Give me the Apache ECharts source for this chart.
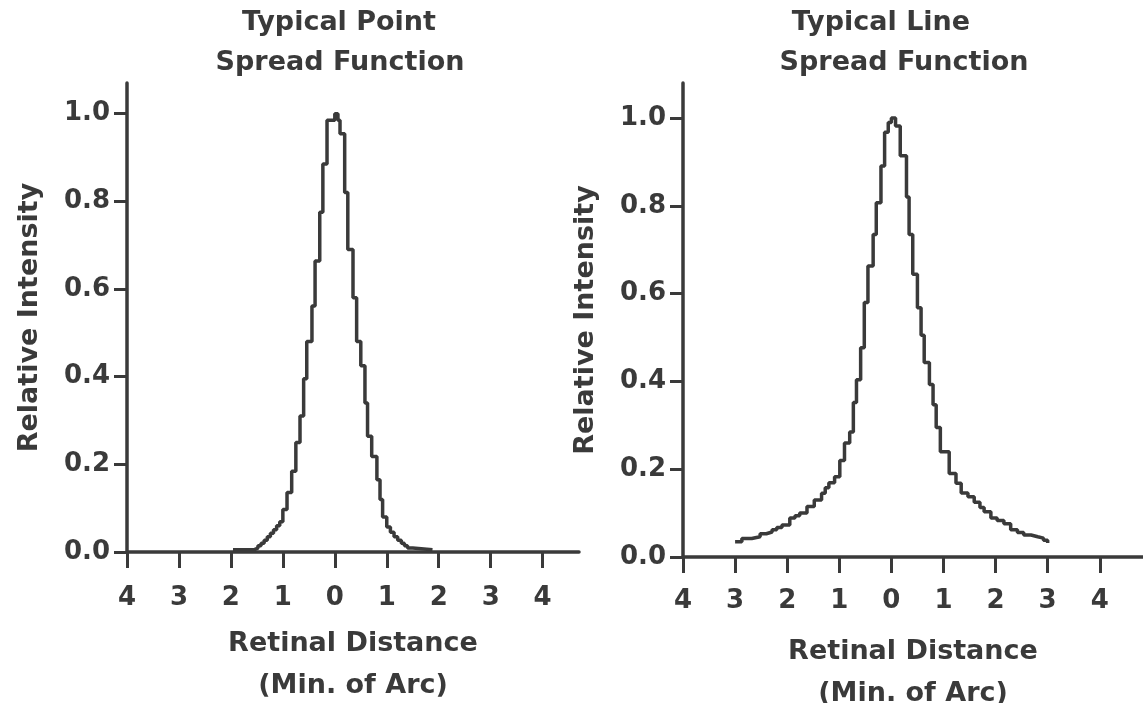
<!DOCTYPE html>
<html>
<head>
<meta charset="utf-8">
<script src="https://cdn.jsdelivr.net/npm/echarts@6/dist/echarts.min.js"></script>
<style>
html,body{margin:0;padding:0;background:#fff;}
#c{width:1143px;height:703px;}
</style>
</head>
<body>
<div id="c"></div>
<script>
// Point spread function (step outline), distance in min of arc
const psfX = [-1.96, -1.56, -1.48, -1.42, -1.36, -1.30, -1.24, -1.18, -1.12, -1.06, -1.00, -0.92, -0.83, -0.75, -0.67, -0.60, -0.54, -0.44, -0.38, -0.29, -0.23, -0.15, 0.00, 0.06, 0.10, 0.19, 0.25, 0.35, 0.42, 0.50, 0.58, 0.63, 0.71, 0.81, 0.87, 0.92, 1.00, 1.07, 1.14, 1.21, 1.28, 1.34, 1.40, 1.50, 1.88];
const psfY = [0.005, 0.009, 0.014, 0.020, 0.027, 0.035, 0.043, 0.051, 0.060, 0.069, 0.097, 0.136, 0.184, 0.250, 0.310, 0.395, 0.480, 0.561, 0.664, 0.775, 0.885, 0.985, 1.000, 0.985, 0.954, 0.820, 0.690, 0.580, 0.480, 0.425, 0.340, 0.264, 0.218, 0.165, 0.120, 0.080, 0.057, 0.045, 0.035, 0.027, 0.020, 0.014, 0.009, 0.005, 0.005];

// Line spread function (step outline)
const lsfX = [-3.00, -2.87, -2.68, -2.52, -2.40, -2.29, -2.20, -2.10, -1.95, -1.85, -1.76, -1.62, -1.48, -1.34, -1.27, -1.20, -1.09, -0.99, -0.90, -0.80, -0.73, -0.67, -0.59, -0.52, -0.45, -0.35, -0.29, -0.20, -0.13, -0.06, 0.00, 0.08, 0.17, 0.29, 0.34, 0.41, 0.50, 0.57, 0.63, 0.73, 0.80, 0.86, 0.94, 1.11, 1.24, 1.34, 1.47, 1.59, 1.70, 1.78, 1.91, 2.03, 2.16, 2.29, 2.42, 2.54, 2.68, 2.81, 2.92, 3.00];
const lsfY = [0.035, 0.042, 0.046, 0.053, 0.057, 0.062, 0.067, 0.073, 0.089, 0.094, 0.100, 0.115, 0.130, 0.145, 0.158, 0.169, 0.183, 0.220, 0.260, 0.285, 0.352, 0.404, 0.477, 0.580, 0.663, 0.735, 0.807, 0.891, 0.968, 0.990, 1.000, 0.982, 0.914, 0.820, 0.735, 0.644, 0.568, 0.505, 0.443, 0.393, 0.347, 0.295, 0.240, 0.190, 0.168, 0.146, 0.137, 0.125, 0.113, 0.103, 0.089, 0.083, 0.076, 0.062, 0.056, 0.050, 0.046, 0.043, 0.038, 0.032];

const xTickVals = [-4, -3, -2, -1, 0, 1, 2, 3, 4];
const yTickVals = [0, 0.2, 0.4, 0.6, 0.8, 1.0];

const titlesLeft = ['Typical Point', 'Spread Function'];
const titlesRight = ['Typical Line', 'Spread Function'];
const xName = 'Retinal Distance\n(Min. of Arc)';
const yName = 'Relative Intensity';

const INK = '#3a3a3a';
const FONT = 'DejaVu Sans';

function pairs(xs, ys){ return xs.map((x,i)=>[x, ys[i]]); }

function xAxisCfg(idx, max, gap, lm){
  return {
    type:'value', gridIndex: idx, min:-4, max: max, interval: 1,
    name: xName, nameLocation:'middle', nameGap: gap,
    nameTextStyle:{color:INK, fontFamily:FONT, fontWeight:'bold', fontSize:27, lineHeight:42},
    axisLine:{show:true, onZero:false, lineStyle:{color:INK, width:3.5}},
    axisTick:{show:true, length:16, customValues: xTickVals, lineStyle:{color:INK, width:3}},
    axisLabel:{color:INK, fontFamily:FONT, fontWeight:'bold', fontSize:26, margin:lm,
      customValues: xTickVals, formatter: v => String(Math.abs(Math.round(v)))},
    splitLine:{show:false}
  };
}
function yAxisCfg(idx, max){
  return {
    type:'value', gridIndex: idx, min:0, max:max, interval:0.2,
    name: yName, nameLocation:'middle', nameGap: 84, nameRotate: 90,
    nameTextStyle:{color:INK, fontFamily:FONT, fontWeight:'bold', fontSize:27},
    axisLine:{show:true, onZero:false, lineStyle:{color:INK, width:3.5}},
    axisTick:{show:true, length:13, customValues: yTickVals, lineStyle:{color:INK, width:3}},
    axisLabel:{color:INK, fontFamily:FONT, fontWeight:'bold', fontSize:26, margin:17,
      customValues: yTickVals, formatter: v => v.toFixed(1)},
    splitLine:{show:false}
  };
}

const chart = echarts.init(document.getElementById('c'), null, {renderer:'canvas'});
chart.setOption({
  animation:false,
  backgroundColor:'#ffffff',
  grid:[
    {left:127, top:83, width:452, height:469, containLabel:false, outerBoundsMode:'none'},
    {left:683, top:83, width:460, height:474, containLabel:false, outerBoundsMode:'none'}
  ],
  xAxis:[ xAxisCfg(0, 4.7, 71, 33), xAxisCfg(1, 4.83, 74, 31) ],
  yAxis:[ yAxisCfg(0, 1.07), yAxisCfg(1, 1.08) ],
  graphic:[
    {type:'text', x:339, y:23, style:{text:titlesLeft[0], fill:INK, font:'bold 27px "DejaVu Sans"', align:'center', verticalAlign:'middle'}},
    {type:'text', x:340, y:63, style:{text:titlesLeft[1], fill:INK, font:'bold 27px "DejaVu Sans"', align:'center', verticalAlign:'middle'}},
    {type:'text', x:881, y:23, style:{text:titlesRight[0], fill:INK, font:'bold 27px "DejaVu Sans"', align:'center', verticalAlign:'middle'}},
    {type:'text', x:904, y:63, style:{text:titlesRight[1], fill:INK, font:'bold 27px "DejaVu Sans"', align:'center', verticalAlign:'middle'}}
  ],
  series:[
    {type:'line', xAxisIndex:0, yAxisIndex:0, step:'end', showSymbol:false, symbol:'none',
     data: pairs(psfX, psfY), lineStyle:{color:INK, width:3.5}},
    {type:'line', xAxisIndex:1, yAxisIndex:1, step:'end', showSymbol:false, symbol:'none',
     data: pairs(lsfX, lsfY), lineStyle:{color:INK, width:3.5}}
  ]
});
</script>
</body>
</html>
